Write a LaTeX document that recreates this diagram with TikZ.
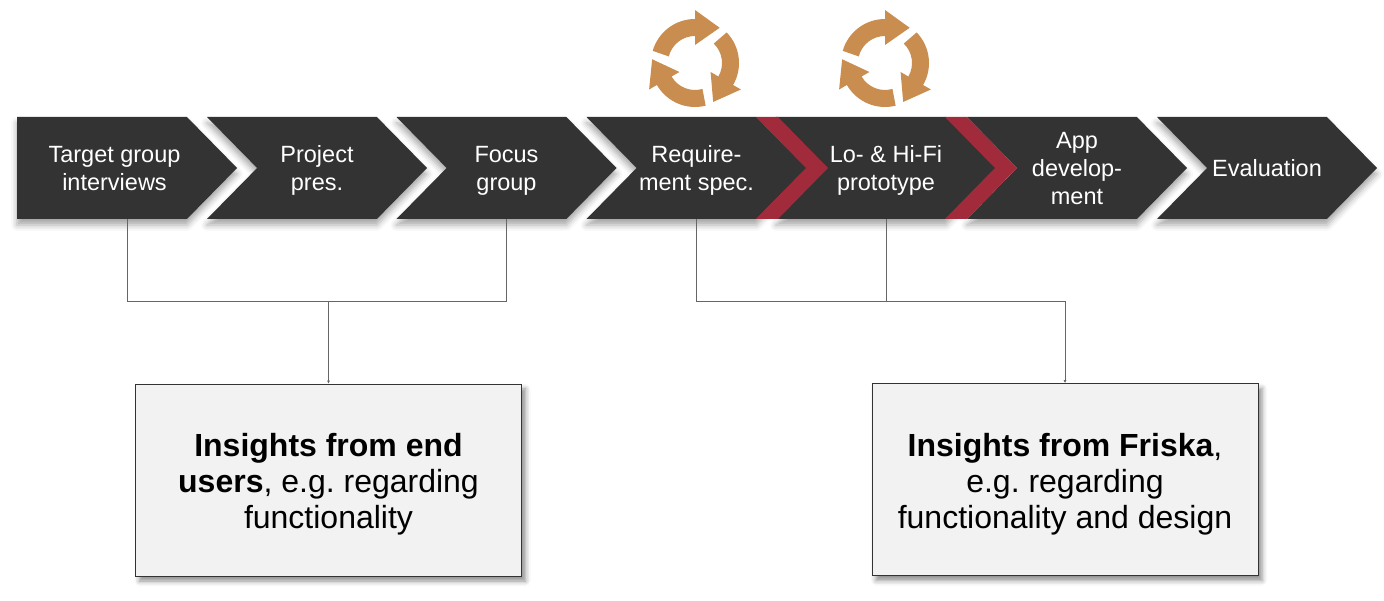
\documentclass[tikz,border=0pt]{standalone}
\usepackage{fontspec}
\setmainfont{Liberation Sans}
\frenchspacing
\usetikzlibrary{arrows.meta, positioning, calc, shapes.symbols, shadows.blur}
\definecolor{chevdark}{HTML}{333333}
\definecolor{chevred}{HTML}{A12B3A}
\definecolor{loopfill}{HTML}{C98D50}
\definecolor{boxfill}{HTML}{F2F2F2}
\definecolor{linkgrey}{HTML}{666666}
\newcommand{\chevstrut}{\rule[-6pt]{0pt}{30pt}}
\newcommand{\chevfoot}{\rule[-6pt]{0pt}{6pt}}
\newcommand{\boxstrut}{\rule[-8pt]{0pt}{41pt}}
\newcommand{\boxfoot}{\rule[-8pt]{0pt}{8pt}}
\tikzset{
    chevron/.style={signal, signal to=east, signal from=west, signal pointer angle=91,
          fill=chevdark, text=white, inner sep=0pt, outer sep=0pt, align=center,
          minimum width=220pt, minimum height=102pt,
          font=\fontsize{23.5}{28}\selectfont,
          blur shadow={shadow xshift=0pt, shadow yshift=-6pt, shadow blur radius=6pt, shadow opacity=35}},
    insight/.style={draw=chevdark, fill=boxfill, line width=0.9pt, align=center,
          minimum width=386pt, minimum height=192pt, inner sep=0pt,
          font=\fontsize{32}{36}\selectfont,
          blur shadow={shadow xshift=4pt, shadow yshift=-5pt, shadow blur radius=5pt, shadow opacity=45}},
    link/.style={draw=linkgrey, line width=0.9pt},
    red band/.pic={
        \fill[chevred] (-36,51) -- (-14,51) -- (36,0) -- (-14,-51) -- (-36,-51) -- (14,0) -- cycle;
    },
    loop arrow/.pic={
        \fill[loopfill] (164:44) arc (164:90:44) -- (90:53) -- (55:43) -- (90:18) -- (90:27)
              arc (90:166:27) -- cycle;
    }
}
\begin{document}
\begin{tikzpicture}[x=1pt, y=1pt]
    \useasboundingbox (0,0) rectangle (1384,600);
    \node[chevron, signal from=nowhere] (target) at (102,432) {\chevstrut\hspace*{25pt}Target group\\\hspace*{25pt}interviews\chevfoot};
    \node[chevron] (project) at (317,432) {\chevstrut Project\\pres.\chevfoot};
    \node[chevron] (focus) at (506.5,432) {\chevstrut Focus\\group\chevfoot};
    \node[chevron] (reqspec) at (696.5,432) {\chevstrut Require-\\ment spec.\chevfoot};
    \node[chevron] (proto) at (886,432) {\chevstrut Lo- \& Hi-Fi\\prototype\chevfoot};
    \node[chevron] (appdev) at (1077,432) {\chevstrut App\\develop-\\ment\chevfoot};
    \node[chevron] (evaluation) at (1267,432) {\chevstrut Evaluation};
    \pic at (792,432) {red band};
    \pic at (981,432) {red band};
    \pic at (695,537) {loop arrow};
    \pic[rotate=-120] at (695,537) {loop arrow};
    \pic[rotate=-240] at (695,537) {loop arrow};
    \pic at (885,537) {loop arrow};
    \pic[rotate=-120] at (885,537) {loop arrow};
    \pic[rotate=-240] at (885,537) {loop arrow};
    \node[insight] (usersbox) at (328.5,120) {\boxstrut\textbf{Insights from end}\\\textbf{users}, e.g. regarding\\functionality\boxfoot};
    \node[insight] (friskabox) at (1065,120.5) {\boxstrut\textbf{Insights from Friska},\\e.g. regarding\\functionality and design\boxfoot};
    \coordinate (targetfoot) at ($(target.south)+(25.5,0)$);
    \coordinate (joinL) at (328.5,299);
    \coordinate (joinR) at (1065,299);
    \draw[link] (targetfoot) |- (joinL);
    \draw[link] (focus.south) |- (joinL);
    \draw[link, -{Latex[length=3pt, width=3pt]}] (joinL) -- (usersbox.north);
    \draw[link] (reqspec.south) |- (joinR);
    \draw[link] (proto.south) |- (joinR);
    \draw[link, -{Latex[length=3pt, width=3pt]}] (joinR) -- (friskabox.north);
\end{tikzpicture}
\end{document}
